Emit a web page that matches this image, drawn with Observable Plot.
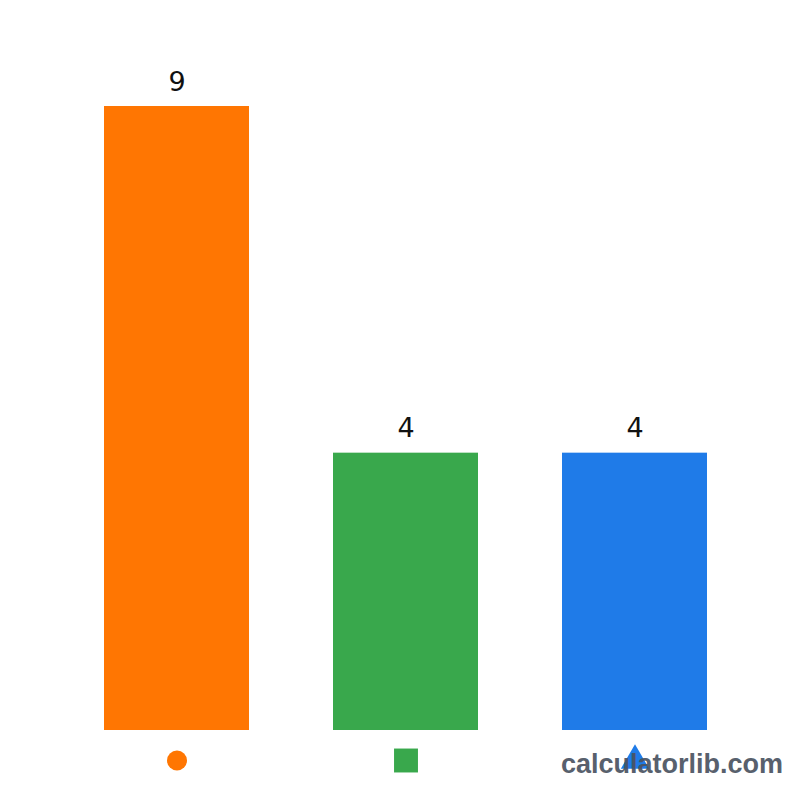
<!DOCTYPE html>
<html>
<head>
<meta charset="utf-8">
<script src="https://cdn.jsdelivr.net/npm/d3@7"></script>
<script src="https://cdn.jsdelivr.net/npm/@observablehq/plot@0.6"></script>
<style>
  html, body { margin: 0; padding: 0; background: #fff; }
  #wrap { position: relative; width: 800px; height: 800px; }
  #wm { position: absolute; right: 17px; top: 749px; font: bold 27px "Liberation Sans", Arial, sans-serif; color: #4a5361; opacity: 0.92; }
</style>
</head>
<body>
<div id="wrap"><div id="chart"></div><div id="wm">calculatorlib.com</div></div>
<script>
const categories = ["circle", "square", "triangle"];
const values = [9, 4, 4];
const symbols = ["circle", "square", "triangle"];

const colors = ["#ff7602", "#39a84c", "#1f7be8"];
const symbolSize = {circle: 10, square: 13.5, triangle: 10.5};

const data = categories.map((c, i) => ({category: c, value: values[i], symbol: symbols[i]}));

const chart = Plot.plot({
  width: 800,
  height: 800,
  marginLeft: 20,
  marginRight: 9,
  marginTop: 106,
  marginBottom: 70,
  x: {domain: categories, padding: 0.365, axis: null},
  y: {domain: [0, 9], axis: null},
  color: {domain: categories, range: colors},
  r: {type: "identity"},
  style: {fontFamily: "DejaVu Sans, sans-serif", background: "white"},
  marks: [
    Plot.barY(data, {x: "category", y: "value", fill: "category"}),
    Plot.text(data, {x: "category", y: "value", text: d => String(d.value), lineAnchor: "bottom", dy: -16, fontSize: 27, fill: "#111"}),
    Plot.dot(data, {x: "category", y: 0, dy: 30, symbol: "symbol", fill: "category", stroke: null, r: d => symbolSize[d.symbol]})
  ]
});
document.getElementById("chart").appendChild(chart);
</script>
</body>
</html>
